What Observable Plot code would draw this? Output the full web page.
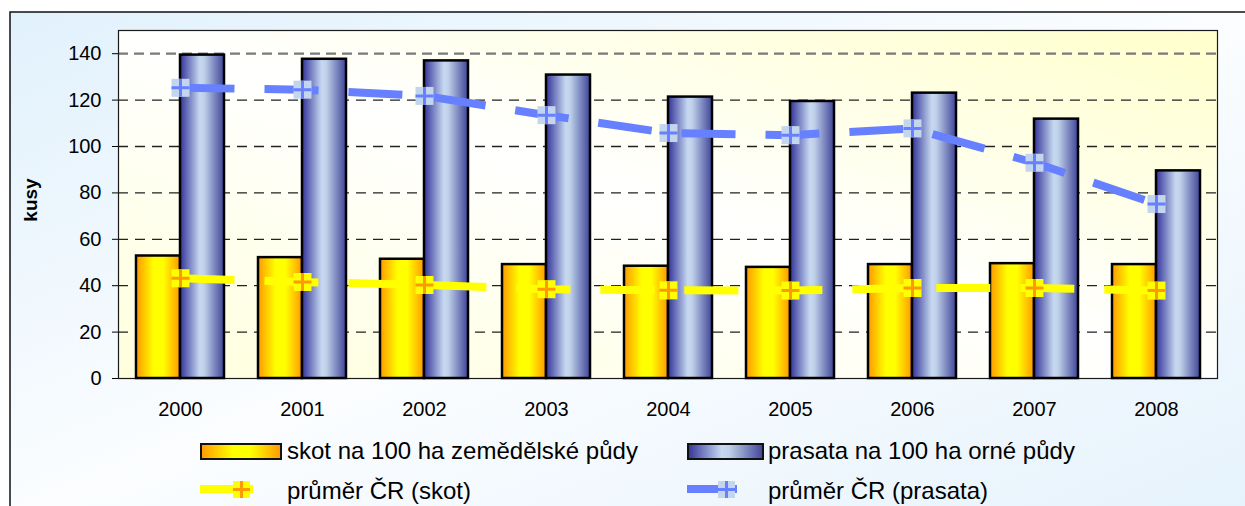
<!DOCTYPE html>
<html><head><meta charset="utf-8">
<script src="https://cdn.jsdelivr.net/npm/d3@7"></script>
<script src="https://cdn.jsdelivr.net/npm/@observablehq/plot@0.6"></script>
<style>html,body{margin:0;padding:0;background:#fff} svg{display:block}</style>
</head><body><div id="chart"></div>
<script>
// ---- data ----
const years = ["2000","2001","2002","2003","2004","2005","2006","2007","2008"];
const skot = [52.8, 52.1, 51.4, 49.1, 48.4, 47.9, 49.1, 49.5, 49.1];
const prasata = [139.4, 137.6, 136.9, 130.8, 121.3, 119.4, 123.0, 111.8, 89.5];
const prumerSkot = [43.2, 41.6, 40.3, 38.5, 38.0, 37.9, 39.0, 39.0, 37.9];
const prumerPrasata = [125.3, 124.5, 121.8, 113.5, 105.8, 104.9, 107.8, 93.0, 75.2];
const yTicks = [0, 20, 40, 60, 80, 100, 120, 140];
const yLabel = "kusy";
const legendLabels = ["skot na 100 ha zemědělské půdy", "prasata na 100 ha orné půdy", "průměr ČR (skot)", "průměr ČR (prasata)"];

const table = years.map((year, i) => ({year, skot: skot[i], prasata: prasata[i], avgSkot: prumerSkot[i], avgPrasata: prumerPrasata[i]}));

const font = "'Liberation Sans', Arial, sans-serif";
const square = {draw(c) { c.rect(-9, -9, 18, 18); }};
const cross = {draw(c) { c.rect(-9, -1.5, 18, 3); c.rect(-1.5, -9, 3, 18); }};

const chart = Plot.plot({
  width: 1245, height: 506,
  marginLeft: 118, marginRight: 28, marginTop: 30, marginBottom: 128,
  style: {fontFamily: font, fontSize: "20px", color: "#000", background: "transparent", overflow: "visible"},
  x: {domain: years, paddingInner: 0.2793, paddingOuter: 0.1397},
  y: {domain: [0, 150]},
  marks: [
    Plot.frame({fill: "url(#plotBg)", stroke: "none"}),
    Plot.ruleY(yTicks.filter(d => d > 0 && d < 140), {stroke: "#222", strokeWidth: 1.3, strokeDasharray: "10,7"}),
    Plot.ruleY([140], {stroke: "#7a7a7a", strokeWidth: 2.2, strokeDasharray: "10,6"}),
    Plot.frame({stroke: "#1a1a1a", strokeWidth: 1.2}),
    Plot.axisY({ticks: yTicks, tickSize: 6, tickPadding: 11, label: null, fontSize: 20}),
    Plot.axisX({tickSize: 0, tickPadding: 23, label: null, fontSize: 20}),
    Plot.barY(table, {x: "year", y: "skot", insetRight: 44, fill: "url(#gSkot)", stroke: "#000", strokeWidth: 2.5}),
    Plot.barY(table, {x: "year", y: "prasata", insetLeft: 44, fill: "url(#gPrasata)", stroke: "#000", strokeWidth: 2.5}),
    Plot.line(table, {x: "year", y: "avgSkot", stroke: "#FFFF00", strokeWidth: 8, strokeDasharray: "54,30", strokeLinecap: "butt"}),
    Plot.dot(table, {x: "year", y: "avgSkot", symbol: square, fill: "#FFFF00", stroke: "none", r: 5}),
    Plot.dot(table, {x: "year", y: "avgSkot", symbol: cross, fill: "#FF9900", stroke: "none", r: 5}),
    Plot.line(table, {x: "year", y: "avgPrasata", stroke: "#6680FF", strokeWidth: 8, strokeDasharray: "54,30", strokeLinecap: "butt"}),
    Plot.dot(table, {x: "year", y: "avgPrasata", symbol: square, fill: "#C4D6EE", stroke: "none", r: 5}),
    Plot.dot(table, {x: "year", y: "avgPrasata", symbol: cross, fill: "#6680FF", stroke: "none", r: 5})
  ]
});

const svg = d3.select(chart);
const defs = svg.insert("defs", ":first-child");
function grad(id, stops, x1 = 0, y1 = 0, x2 = 1, y2 = 0) {
  const g = defs.append("linearGradient").attr("id", id)
    .attr("x1", x1).attr("y1", y1).attr("x2", x2).attr("y2", y2);
  stops.forEach(([o, c]) => g.append("stop").attr("offset", o).attr("stop-color", c));
}
grad("gSkot", [["0%", "#FF9900"], ["40%", "#FFFF00"], ["62%", "#FFFF00"], ["100%", "#FF9900"]]);
grad("gPrasata", [["0%", "#333399"], ["45%", "#C6D9F0"], ["55%", "#BFD1E9"], ["100%", "#3F4599"]]);
grad("plotBg", [["0%", "#FFFFDC"], ["50%", "#FFFFFF"], ["100%", "#FFFFCC"]], 0, 1, 1, 0);
grad("outerBg", [["0%", "#E1F1FC"], ["50%", "#FBFDFF"], ["100%", "#E5F2FC"]], 0, 0, 1, 1);

svg.insert("rect", "defs + *")
  .attr("x", 10).attr("y", 12).attr("width", 1245).attr("height", 510)
  .attr("fill", "url(#outerBg)").attr("stroke", "#111").attr("stroke-width", 1.5);

// y-axis label
svg.append("text").attr("transform", "translate(37,200) rotate(-90)")
  .attr("text-anchor", "middle").attr("font-family", font).attr("font-weight", "bold")
  .attr("font-size", 19).text(yLabel);

// legend
const lg = svg.append("g").attr("font-family", font).attr("font-size", 24).attr("fill", "#000").attr("text-anchor", "start");
lg.append("rect").attr("x", 201).attr("y", 444).attr("width", 80).attr("height", 15)
  .attr("fill", "url(#gSkot)").attr("stroke", "#111").attr("stroke-width", 2);
lg.append("text").attr("x", 287).attr("y", 459).text(legendLabels[0]);
lg.append("rect").attr("x", 688).attr("y", 444).attr("width", 75).attr("height", 15)
  .attr("fill", "url(#gPrasata)").attr("stroke", "#111").attr("stroke-width", 2);
lg.append("text").attr("x", 768).attr("y", 459).text(legendLabels[1]);

lg.append("line").attr("x1", 200).attr("x2", 253).attr("y1", 489).attr("y2", 489)
  .attr("stroke", "#FFFF00").attr("stroke-width", 8);
lg.append("rect").attr("x", 233).attr("y", 481).attr("width", 17).attr("height", 17).attr("fill", "#FFFF00");
lg.append("rect").attr("x", 233).attr("y", 488).attr("width", 17).attr("height", 3).attr("fill", "#FF9900");
lg.append("rect").attr("x", 240).attr("y", 481).attr("width", 3).attr("height", 17).attr("fill", "#FF9900");
lg.append("text").attr("x", 287).attr("y", 499).text(legendLabels[2]);

lg.append("line").attr("x1", 687).attr("x2", 737).attr("y1", 489).attr("y2", 489)
  .attr("stroke", "#6680FF").attr("stroke-width", 8);
lg.append("rect").attr("x", 718).attr("y", 481).attr("width", 17).attr("height", 17).attr("fill", "#C4D6EE");
lg.append("rect").attr("x", 718).attr("y", 488).attr("width", 17).attr("height", 3).attr("fill", "#6680FF");
lg.append("rect").attr("x", 725).attr("y", 481).attr("width", 3).attr("height", 17).attr("fill", "#6680FF");
lg.append("text").attr("x", 768).attr("y", 499).text(legendLabels[3]);

document.getElementById("chart").appendChild(chart);
</script>
</body></html>
